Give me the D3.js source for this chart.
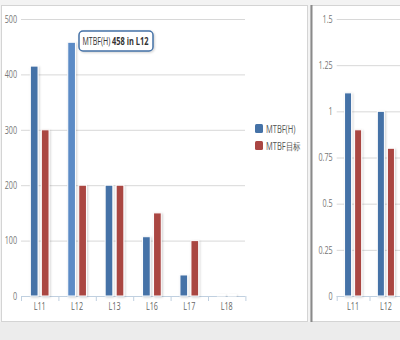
<!DOCTYPE html>
<html><head><meta charset="utf-8">
<script src="https://cdnjs.cloudflare.com/ajax/libs/d3/7.8.5/d3.min.js"></script>
<style>
html,body{margin:0;padding:0;background:#f2f2f2;}
svg{display:block;}
text{font-family:"Open Sans","DejaVu Sans",sans-serif;}
</style></head>
<body>
<svg id="c" width="400" height="340"></svg>
<script>
const categories = ["L11","L12","L13","L16","L17","L18"];
const seriesNames = ["MTBF(H)","MTBF目标"];
const mtbfLeft = [415, 458, 200, 107, 38, 0];
const targetLeft = [300, 200, 200, 150, 100, 0];
const leftTicks = [0,100,200,300,400,500];
const mtbfRight = [1.1, 1.0];
const targetRight = [0.9, 0.8];
const rightTicks = [0,0.25,0.5,0.75,1,1.25,1.5];
const colors = ["#4572A7","#AA4643"];
const hoverColor = "#5B8BC6";
const tooltip = {series:"MTBF(H)", value:458, category:"L12"};

const svg = d3.select("#c");
const defs = svg.append("defs");
const sh = defs.append("filter").attr("id","sh").attr("x","-50%").attr("y","-50%").attr("width","200%").attr("height","200%");
sh.append("feDropShadow").attr("dx",1).attr("dy",1).attr("stdDeviation",1).attr("flood-color","#000").attr("flood-opacity",0.18);

function condense(sel, k){
  sel.each(function(){
    const n = this.getComputedTextLength();
    if (n > 0) { this.setAttribute("textLength", n*k); this.setAttribute("lengthAdjust","spacingAndGlyphs"); }
  });
}

// panels
svg.append("rect").attr("x",0).attr("y",0).attr("width",400).attr("height",340).attr("fill","#f3f3f3");
svg.append("rect").attr("x",0).attr("y",322).attr("width",400).attr("height",18).attr("fill","#ececec");
svg.append("rect").attr("x",1.5).attr("y",5.5).attr("width",306).attr("height",316).attr("fill","#fff").attr("stroke","#d4d4d4");
svg.append("rect").attr("x",311).attr("y",5.5).attr("width",95).attr("height",316).attr("fill","#fff").attr("stroke","#d4d4d4");
svg.append("line").attr("x1",311.5).attr("x2",311.5).attr("y1",5).attr("y2",322).attr("stroke","#8a8a8a").attr("stroke-width",2);

function drawChart(cfg){
  const g = svg.append("g");
  const cats = categories.slice(0, cfg.values[0].length);
  const y = d3.scaleLinear().domain([0, d3.max(cfg.ticks)]).range([cfg.y0, cfg.y1]);
  const x0 = d3.scaleBand().domain(cats).range([cfg.xl, cfg.xl + cfg.band*cats.length]);
  const x1 = d3.scaleBand().domain(seriesNames).range([0, x0.bandwidth()]).paddingInner(0.3).paddingOuter(cfg.po);
  // grid
  const ya = d3.axisLeft(y).tickValues(cfg.ticks).tickSize(-(cfg.gridRight - cfg.xl)).tickFormat(d3.format("~g"));
  const yg = g.append("g").attr("transform",`translate(${cfg.xl},0)`).call(ya);
  yg.select(".domain").remove();
  yg.selectAll(".tick line").attr("stroke","#d8d8d8").attr("stroke-width",1);
  yg.selectAll(".tick text").attr("x",-4).attr("fill","#777").attr("font-size",10).attr("dy","0.32em").call(condense,0.72);
  // x axis
  const xa = d3.axisBottom(x0).tickSize(0).tickPadding(5);
  const xg = g.append("g").attr("transform",`translate(0,${cfg.y0})`).call(xa);
  xg.select(".domain").attr("stroke","#C0D0E0").attr("d",`M${cfg.xl},0.5H${cfg.xl+cfg.band*cats.length}`);
  xg.selectAll(".tick text").attr("fill","#666").attr("font-size",10).attr("dy","0.9em").call(condense,0.72);
  const edges = cats.map(c=>x0(c)).concat([x0(cats[cats.length-1])+x0.bandwidth()]);
  g.selectAll(".xt").data(edges).join("line").attr("x1",d=>d+0.5).attr("x2",d=>d+0.5)
    .attr("y1",cfg.y0).attr("y2",cfg.y0+5).attr("stroke","#C0D0E0");
  // bars
  const rows = [];
  cfg.values.forEach((vals, si)=>{
    vals.forEach((v, i)=>{ rows.push({cat:cats[i], s:seriesNames[si], si, v}); });
  });
  g.selectAll(".bar").data(rows).join("rect")
    .attr("x", d=>x0(d.cat)+x1(d.s))
    .attr("width", x1.bandwidth())
    .attr("y", d=>Math.min(y(d.v), cfg.y0-1.5))
    .attr("height", d=>Math.max(cfg.y0 - y(d.v), 1.5))
    .attr("fill", d=> d.v===0 ? "#fff" : (cfg.hover && d.cat===cfg.hover.category && d.s===cfg.hover.series ? hoverColor : colors[d.si]))
    .attr("stroke","#fff").attr("stroke-width",1)
    .attr("filter","url(#sh)");
}

drawChart({xl:21, band:37.4, po:0.85, y0:296, y1:19, gridRight:245, ticks:leftTicks, values:[mtbfLeft,targetLeft], hover:tooltip});
drawChart({xl:336.7, band:32.8, po:0.78, y0:296, y1:19, gridRight:420, ticks:rightTicks, values:[mtbfRight,targetRight]});

// legend
const lg = svg.append("g");
seriesNames.forEach((s,i)=>{
  const yy = 124 + i*17;
  lg.append("rect").attr("x",255).attr("y",yy).attr("width",8).attr("height",9).attr("rx",1.5).attr("fill",colors[i]);
  lg.append("text").attr("x",266).attr("y",yy+8.5).attr("font-size",10).attr("fill","#555").text(s).call(condense,0.75);
});

// tooltip
const tipW = 74, tipPad = 3.5;
const tg = svg.append("g").attr("transform","translate(79,31)");
tg.append("rect").attr("width",tipW).attr("height",20).attr("rx",4).attr("fill","#fff")
  .attr("stroke",colors[0]).attr("stroke-width",1.5).attr("filter","url(#sh)");
const tsg = tg.append("g");
const tt = tsg.append("text").attr("x",0).attr("y",0).attr("font-size",10.5).attr("fill","#333");
tt.append("tspan").attr("font-size",10).text(tooltip.series + " ");
tt.append("tspan").attr("font-weight","bold").text(`${tooltip.value} in ${tooltip.category}`);
const natural = tt.node().getComputedTextLength();
const k = (tipW - 2*tipPad - 1) / natural;
tsg.attr("transform", `translate(${tipPad},14) scale(${k},1)`);
</script>
</body></html>
